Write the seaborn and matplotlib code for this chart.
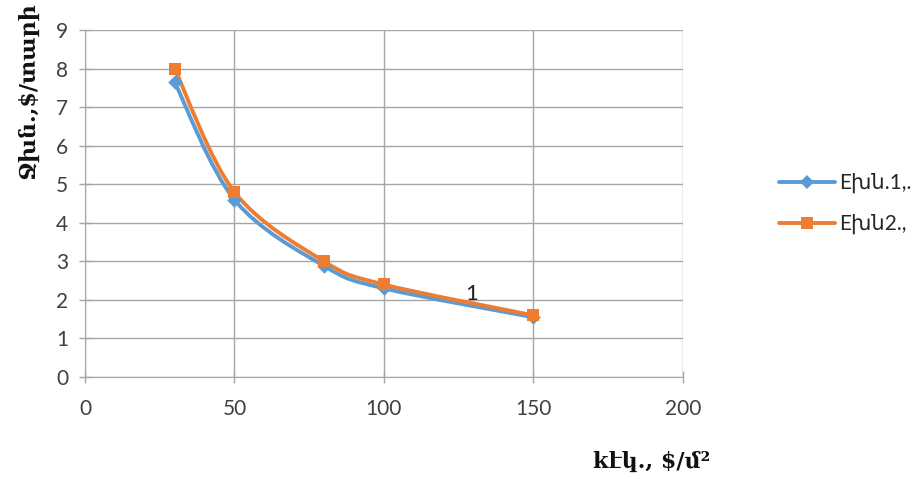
import numpy as np
import matplotlib
matplotlib.use("Agg")
import matplotlib.pyplot as plt
import seaborn as sns
from matplotlib.path import Path
from matplotlib.patches import PathPatch
from matplotlib.lines import Line2D

x_vals = [30, 50, 80, 100, 150]
series1 = [7.65, 4.6, 2.88, 2.3, 1.55]
series2 = [8.0, 4.8, 3.0, 2.4, 1.6]
names = ["Eխն.1,.", "Eխն2.,"]
colors = ["#5B9BD5", "#ED7D31"]
markers = ["D", "s"]
x_ticks = [0, 50, 100, 150, 200]
y_ticks = list(range(10))

sns.set_style("white")
plt.rcParams['font.family'] = ['Lato', 'DejaVu Sans']

fig = plt.figure(figsize=(9.24, 4.79), dpi=100)
ax = fig.add_axes([0.092, 0.213, 0.647, 0.724])

def smooth_path(xs, ys, t=0.5 / 3):
    # Excel-like smoothed line drawn as cubic Bezier segments through the points
    pts = np.column_stack([xs, ys]).astype(float)
    n = len(pts)
    verts = [pts[0]]
    codes = [Path.MOVETO]
    for i in range(n - 1):
        p0 = pts[i - 1] if i > 0 else pts[i]
        p1 = pts[i]
        p2 = pts[i + 1]
        p3 = pts[i + 2] if i + 2 < n else pts[i + 1]
        c1 = p1 + (p2 - p0) * t
        c2 = p2 - (p3 - p1) * t
        verts += [c1, c2, p2]
        codes += [Path.CURVE4] * 3
    return Path(verts, codes)

for ys, c, m in zip([series1, series2], colors, markers):
    patch = PathPatch(smooth_path(x_vals, ys), facecolor="none", edgecolor=c, lw=2.8, zorder=3)
    ax.add_patch(patch)
    sns.scatterplot(x=x_vals, y=ys, color=c, marker=m, s=70 if m == "s" else 55,
                    edgecolor=c, linewidth=0, ax=ax, zorder=4, legend=False)

ax.set_xlim(0, 200)
ax.set_ylim(0, 9)
ax.set_xticks(x_ticks)
ax.set_yticks(y_ticks)
ax.grid(True, color="#A6A6A6", lw=1)
for s in ["top", "right"]:
    ax.spines[s].set_visible(False)
for s in ["left", "bottom"]:
    ax.spines[s].set_color("#A6A6A6")
ax.tick_params(axis="both", labelsize=15, colors="#A6A6A6", length=8, width=1,
               direction="inout", left=True, bottom=True, labelcolor="#404040")
ax.tick_params(axis="y", pad=8)
ax.tick_params(axis="x", pad=12)
ax.set_axisbelow(True)

ax.text(129.5, 2.15, "1", fontsize=16, color="#222222", ha="center", va="center")

fig.text(0.030, 0.81, "Ջխն.,$/տարի", rotation=90, fontsize=16, fontweight="bold",
         family=["DejaVu Serif"], ha="center", va="center", color="#111111")
fig.text(0.705, 0.035, "kէկ., $/մ²", fontsize=16, fontweight="bold",
         family=["DejaVu Serif"], ha="center", va="center", color="#111111")

handles = [Line2D([0], [0], color=c, lw=2.8, marker=m, markersize=8 if m == "s" else 7,
                  markeredgewidth=0) for c, m in zip(colors, markers)]
fig.legend(handles, names, loc="center left", bbox_to_anchor=(0.843, 0.575),
           frameon=False, fontsize=15, handlelength=2.7, labelspacing=1.0,
           handletextpad=0.2, borderaxespad=0, borderpad=0)

fig.savefig("out.png", dpi=100)
